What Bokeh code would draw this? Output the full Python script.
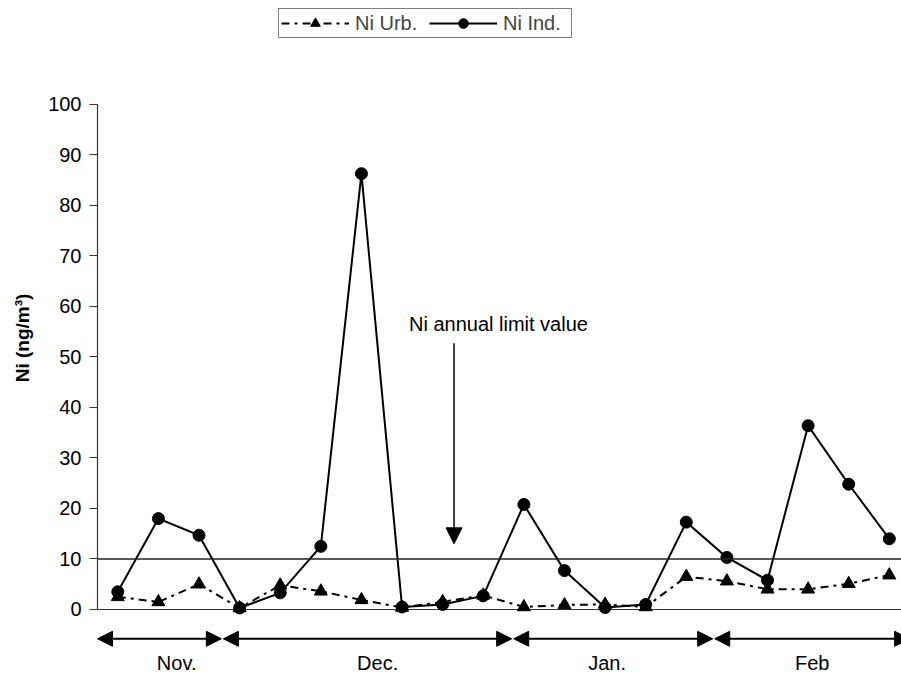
from bokeh.plotting import figure
from bokeh.models import (Range1d, FixedTicker, Span, Arrow, NormalHead, Legend, LegendItem,
                          ColumnDataSource)
from bokeh.core.properties import value
from bokeh.embed import file_html
from bokeh.resources import INLINE

# ---- data ----
sample_idx = list(range(20))
ni_urb = [2.5, 1.5, 5.0, 0.3, 4.8, 3.6, 1.9, 0.4, 1.5, 2.8,
          0.5, 0.9, 1.0, 0.5, 6.5, 5.6, 4.0, 4.0, 5.1, 6.8]
ni_ind = [3.5, 18.0, 14.7, 0.3, 3.3, 12.5, 86.3, 0.5, 1.0, 2.7,
          20.8, 7.7, 0.4, 1.0, 17.3, 10.3, 5.8, 36.4, 24.8, 14.0]
y_ticks = [0, 10, 20, 30, 40, 50, 60, 70, 80, 90, 100]
limit_value = 10
months = ["Nov.", "Dec.", "Jan.", "Feb"]
month_start = [-0.5, 2.6, 9.75, 14.7]
month_end = [2.55, 9.7, 14.65, 19.5]
month_label_x = [1.45, 6.4, 12.05, 17.1]
annot_text = "Ni annual limit value"

FONT = "Liberation Sans"
FS = "20px"

p = figure(width=901, height=675, output_backend="svg", toolbar_location=None,
           x_range=Range1d(-0.5, 19.3), y_range=Range1d(-13.07, 120.59),
           min_border_left=97, min_border_right=0, min_border_top=0, min_border_bottom=0)
p.background_fill_color = "white"
p.border_fill_color = "white"
p.outline_line_color = None
p.grid.visible = False
p.xaxis.visible = False

ax = p.yaxis[0]
ax.bounds = (0, 100)
ax.ticker = FixedTicker(ticks=y_ticks)
ax.minor_tick_line_color = None
ax.major_tick_out = 8
ax.major_tick_in = 0
ax.axis_line_color = "#333333"
ax.axis_line_width = 1.2
ax.major_tick_line_color = "#333333"
ax.major_label_text_font = FONT
ax.major_label_text_font_size = FS
ax.major_label_text_color = "black"
ax.major_label_standoff = 8
ax.axis_label = "Ni (ng/m³)"
ax.axis_label_text_font = FONT
ax.axis_label_text_font_size = "19px"
ax.axis_label_text_font_style = "bold"
ax.axis_label_text_color = "black"
ax.axis_label_standoff = 12

# x axis baseline at y=0 and limit line
p.segment(x0=[-0.5], y0=[0], x1=[19.3], y1=[0], line_color="#333333", line_width=1.2)
p.add_layout(Span(location=limit_value, dimension="width", line_color="#222222", line_width=1.6))

src = ColumnDataSource(dict(x=sample_idx, urb=ni_urb, ind=ni_ind))
l_urb = p.line("x", "urb", source=src, line_color="black", line_width=2, line_dash="8 5 3 5")
m_urb = p.scatter("x", "urb", source=src, marker="triangle", size=13,
                  fill_color="black", line_color="black")
l_ind = p.line("x", "ind", source=src, line_color="black", line_width=2)
m_ind = p.scatter("x", "ind", source=src, marker="circle", size=12,
                  fill_color="black", line_color="black")

# month arrows
for s, e in zip(month_start, month_end):
    p.add_layout(Arrow(x_start=s, y_start=-5.8, x_end=e, y_end=-5.8,
                       line_color="black", line_width=2,
                       start=NormalHead(size=15, fill_color="black", line_color="black"),
                       end=NormalHead(size=15, fill_color="black", line_color="black")))
p.text(x=month_label_x, y=[-10.6] * len(months), text=months,
       text_font=value(FONT), text_font_size=FS, text_align="center",
       text_baseline="middle", text_color="black")

# annotation
p.text(x=[7.17], y=[56.6], text=[annot_text], text_font=value(FONT), text_font_size=FS,
       text_align="left", text_baseline="middle", text_color="black")
p.add_layout(Arrow(x_start=8.28, y_start=52.7, x_end=8.28, y_end=13.0,
                   line_color="black", line_width=1.5,
                   end=NormalHead(size=16, fill_color="black", line_color="black")))

legend = Legend(items=[LegendItem(label="Ni Urb.", renderers=[l_urb, m_urb]),
                       LegendItem(label="Ni Ind.", renderers=[l_ind, m_ind])],
                orientation="horizontal", location=(181, 637),
                glyph_width=68, glyph_height=24, label_standoff=6, spacing=8,
                padding=2, margin=0, label_height=24, label_width=66,
                label_text_font=FONT, label_text_font_size=FS,
                border_line_color="black", border_line_width=1,
                background_fill_color="white", background_fill_alpha=1.0)
p.add_layout(legend, "center")

open("out.html", "w").write(file_html(p, INLINE))
